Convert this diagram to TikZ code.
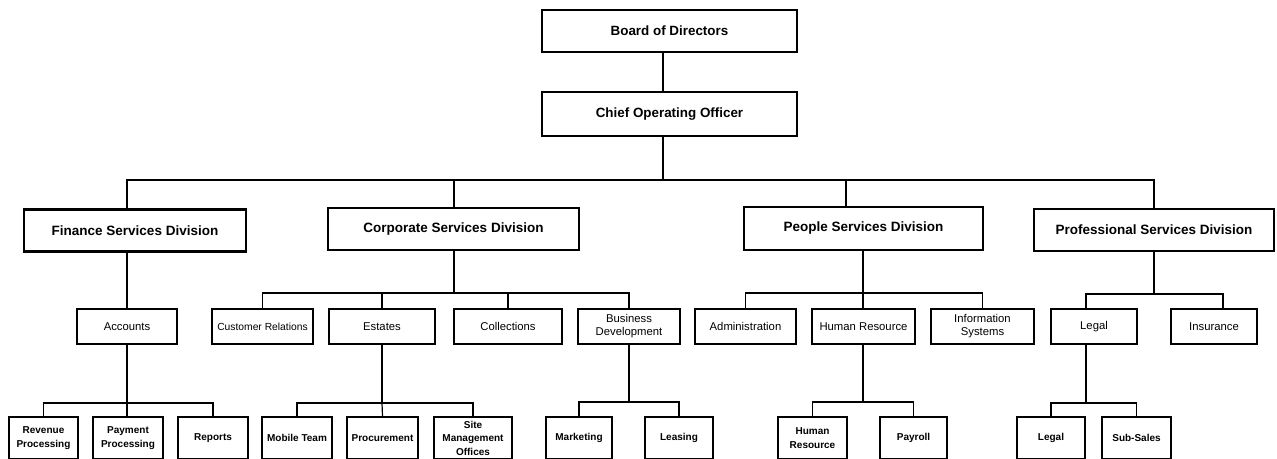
\documentclass[tikz,border=0pt]{standalone}
\usepackage{fontspec}
\setmainfont{Liberation Sans}
\begin{document}
\begin{tikzpicture}[x=1pt,y=-1pt,
 box/.style={draw, line width=1.8pt, inner sep=0pt, align=center, fill=white},
 topbox/.style={box, line width=2.2pt, minimum width=255pt, font=\fontsize{13.4}{15}\selectfont\bfseries},
 divbox/.style={box, line width=2.6pt, minimum height=42pt, font=\fontsize{13.5}{15}\selectfont\bfseries},
 deptbox/.style={box, line width=1.8pt, minimum height=35pt, font=\fontsize{11.3}{13}\selectfont},
 subbox/.style={box, line width=1.8pt, minimum height=42pt, font=\fontsize{10}{13.5}\selectfont\bfseries},
 link/.style={line width=1.2pt},
]
\useasboundingbox (0,0) rectangle (1277,458);
\fill[white] (0,0) rectangle (1277,458);
\clip (0,0) rectangle (1277,458);

% top
\node[topbox, minimum height=42pt] (board) at (669.5,31) {Board of Directors};
\node[topbox, minimum height=44pt] (coo) at (669.5,114) {Chief Operating Officer};

% divisions
\node[divbox, minimum width=222pt] (fin) at (135,230.5) {Finance Services Division};
\node[divbox, minimum width=251pt] (cor) at (453.5,229) {Corporate Services Division};
\node[divbox, minimum width=239pt, minimum height=43pt] (peo) at (863.5,228.5) {People Services Division};
\node[divbox, minimum width=240pt] (pro) at (1154,230) {Professional Services Division};

% departments
\node[deptbox, minimum width=100pt] (acc) at (127,326.5) {Accounts};
\node[deptbox, minimum width=101pt, font=\fontsize{10.3}{13}\selectfont] (cr) at (262.5,326.5) {Customer Relations};
\node[deptbox, minimum width=106pt] (est) at (382,326.5) {Estates};
\node[deptbox, minimum width=108pt] (col) at (508,326.5) {Collections};
\node[deptbox, minimum width=102pt] (bd) at (629,326.5) {Business\\Development};
\node[deptbox, minimum width=101pt] (adm) at (745.5,326.5) {Administration};
\node[deptbox, minimum width=103pt] (hr) at (863.5,326.5) {Human Resource};
\node[deptbox, minimum width=103pt] (is) at (982.5,326.5) {Information\\Systems};
\node[deptbox, minimum width=86pt] (lg) at (1094,326.5) {Legal};
\node[deptbox, minimum width=86pt] (ins) at (1214,326.5) {Insurance};

% sub-units
\node[subbox, minimum width=69pt] (rp) at (43.5,438) {Revenue\\Processing};
\node[subbox, minimum width=70pt] (pp) at (128,438) {Payment\\Processing};
\node[subbox, minimum width=70pt] (rep) at (213,438) {Reports};
\node[subbox, minimum width=70pt] (mt) at (297,438) {Mobile Team};
\node[subbox, minimum width=71pt] (prc) at (382.5,438) {Procurement};
\node[subbox, minimum width=78pt] (smo) at (473,438) {Site\\Management\\Offices};
\node[subbox, minimum width=66pt] (mk) at (579,438) {Marketing};
\node[subbox, minimum width=68pt] (ls) at (679,438) {Leasing};
\node[subbox, minimum width=69pt] (hr2) at (812.5,438) {Human\\Resource};
\node[subbox, minimum width=67pt] (pay) at (913.5,438) {Payroll};
\node[subbox, minimum width=68pt] (lg2) at (1051,438) {Legal};
\node[subbox, minimum width=69pt] (ss) at (1136.5,438) {Sub-Sales};

% bus coordinates
\coordinate (tb) at (663,180);
\coordinate (pv) at (846,180);
\coordinate (cb) at (454,293);
\coordinate (pb) at (863,293);
\coordinate (prb) at (1154,294);
\coordinate (lgx) at (1086,294);
\coordinate (insx) at (1223,294);
\coordinate (ab) at (127,403);
\coordinate (eb) at (382,403);
\coordinate (bdb) at (629,402);
\coordinate (hrb) at (863,402);
\coordinate (lgb) at (1086,403);

% top connectors
\draw[link] (board.south -| tb) -- (coo.north -| tb);
\draw[link] (coo.south -| tb) -- (tb);
\draw[link] (fin.north -| acc) |- (tb) -| (pro.north);
\draw[link] (cor.north -| cb) -- (cb |- tb);
\draw[link] (pv) -- (pv |- peo.north);

% finance
\draw[link] (fin.south -| acc) -- (acc.north);
\draw[link] (acc.south) -- (ab);
\draw[link] (rp.north) |- (ab) -| (rep.north);
\draw[link] (ab) -- (ab |- pp.north);

% corporate
\draw[link] (cor.south -| cb) -- (cb);
\draw[link] (cr.north) |- (cb) -| (bd.north);
\draw[link] (est.north) -- (est.north |- cb);
\draw[link] (col.north) -- (col.north |- cb);
\draw[link] (est.south) -- (eb);
\draw[link] (mt.north) |- (eb) -| (smo.north);
\draw[link] (eb) -- (prc.north);
\draw[link] (bd.south) -- (bdb);
\draw[link] (mk.north) |- (bdb) -| (ls.north);

% people
\draw[link] (peo.south -| pb) -- (pb);
\draw[link] (adm.north) |- (pb) -| (is.north);
\draw[link] (hr.north -| pb) -- (pb);
\draw[link] (hr.south -| hrb) -- (hrb);
\draw[link] (hr2.north) |- (hrb) -| (pay.north);

% professional
\draw[link] (pro.south) -- (prb);
\draw[link] (lg.north -| lgx) |- (prb) -| (ins.north -| insx);
\draw[link] (lg.south -| lgb) -- (lgb);
\draw[link] (lg2.north) |- (lgb) -| (ss.north);
\end{tikzpicture}
\end{document}
